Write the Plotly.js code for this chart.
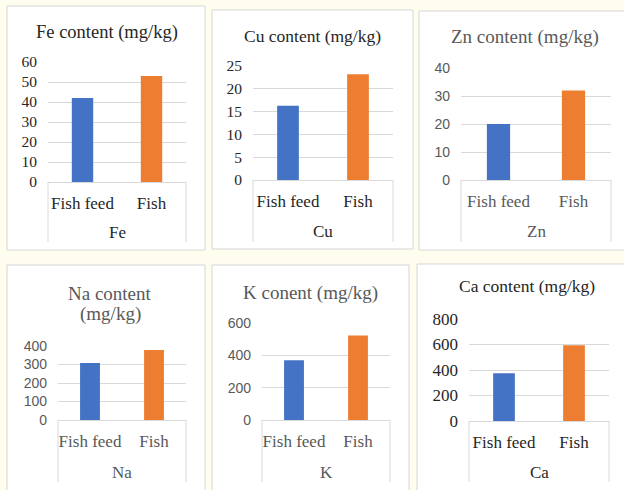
<!DOCTYPE html>
<html>
<head>
<meta charset="utf-8">
<script src="https://cdn.plot.ly/plotly-3.0.1.min.js"></script>
<style>html,body{margin:0;padding:0;background:#fffdee;}#chart{width:624px;height:490px;}</style>
</head>
<body>
<div id="chart"></div>
<script>
// ---- data ----
const categories = ['Fish feed', 'Fish'];
const elements = ['Fe', 'Cu', 'Zn', 'Na', 'K', 'Ca'];
const chartTitles = ['Fe content (mg/kg)', 'Cu content (mg/kg)', 'Zn content (mg/kg)', 'Na content|(mg/kg)', 'K conent (mg/kg)', 'Ca content (mg/kg)'];
const feValues = [42, 53];
const cuValues = [16.3, 23.2];
const znValues = [20, 32];
const naValues = [308, 378];
const kValues = [370, 522];
const caValues = [375, 595];
const yMax = [60, 25, 40, 400, 600, 800];
const yStep = [10, 5, 10, 100, 200, 200];
const allValues = [feValues, cuValues, znValues, naValues, kValues, caValues];

// ---- styles / layout (pixels) ----
const W = 624, H = 490;
const BLUE = '#4472C4', ORANGE = '#ED7D31';
const SERIF = 'Liberation Serif, Times New Roman, serif';
const SANS = 'Liberation Sans, Arial, sans-serif';
const DARK = '#262626', GRAY = '#595959';
// panel frames [x0, y0, x1, y1]
const frames = [[7,6,205,250],[212,10,413,249],[419,11,630,250],[7,265,205,495],[212,265,409,495],[417,264,630,495]];
// plot areas [x0, x1, yTop, yBottom]
const plots = [[48,186,62,182],[253,393,66,180],[461,611,68,180],[58,186,346,420],[262,390,323,420],[469,609,319,421]];
const titlePos = [[107,32,18.5,DARK],[312,36,17.5,DARK],[525,37,19,GRAY],[110,293,19,GRAY],[310,293,19,GRAY],[527,286,17.5,DARK]];
const tickFonts = [[SERIF,15.5,DARK],[SERIF,15.5,DARK],[SANS,14,GRAY],[SANS,14,GRAY],[SANS,14,GRAY],[SERIF,17,DARK]];
const catColor = [DARK, DARK, GRAY, GRAY, GRAY, DARK];
const groupY = [232,231,231,472,472,472];
const boxBottom = [242,242,242,482,482,482];

const px = x => x / W;
const py = y => 1 - y / H;

const data = [];
const layout = {
  width: W, height: H,
  margin: {l:0, r:0, t:0, b:0},
  paper_bgcolor: '#fffdee',
  plot_bgcolor: 'rgba(0,0,0,0)',
  showlegend: false,
  shapes: [], annotations: []
};

frames.forEach(f => {
  layout.shapes.push({type:'rect', xref:'paper', yref:'paper', layer:'below',
    x0:px(f[0]), x1:px(f[2]), y0:py(f[1]), y1:py(f[3]),
    fillcolor:'#ffffff', line:{color:'#d6d6d6', width:1}});
});

elements.forEach((el, i) => {
  const n = i === 0 ? '' : String(i + 1);
  const p = plots[i];
  data.push({
    type: 'bar', x: categories, y: allValues[i],
    xaxis: 'x' + n, yaxis: 'y' + n,
    width: 0.31,
    marker: {color: [BLUE, ORANGE], line: {width: 0}},
    hoverinfo: 'x+y'
  });
  layout['xaxis' + n] = {
    domain: [px(p[0]), px(p[1])], anchor: 'y' + n,
    type: 'category', range: [-0.5, 1.5],
    showgrid: false, showline: true, linecolor: '#d9d9d9', linewidth: 1,
    ticks: '', ticklabelstandoff: 6,
    tickfont: {family: SERIF, size: 17, color: catColor[i]},
    fixedrange: true
  };
  layout['yaxis' + n] = {
    domain: [py(p[3]), py(p[2])], anchor: 'x' + n,
    range: [0, yMax[i]], dtick: yStep[i], tick0: 0,
    showgrid: true, gridcolor: '#d9d9d9', gridwidth: 1,
    zeroline: false, showline: false, ticks: '', ticklabelstandoff: 10,
    tickfont: {family: tickFonts[i][0], size: tickFonts[i][1], color: tickFonts[i][2]},
    fixedrange: true
  };
  // category-axis box lines
  [0, 1].forEach(d => {
    layout.shapes.push({type:'line', xref:'x' + n + ' domain', yref:'paper',
      x0:d, x1:d, y0:py(p[3]), y1:py(boxBottom[i]), line:{color:'#d9d9d9', width:1}});
  });
  // group label
  layout.annotations.push({xref:'x' + n + ' domain', yref:'paper', x:0.5, y:py(groupY[i]),
    xanchor:'center', yanchor:'middle', showarrow:false, text: el,
    font:{family: SERIF, size: 17, color: catColor[i]}});
  // chart title
  const t = titlePos[i];
  const lines = chartTitles[i].split('|');
  lines.forEach((ln, k) => {
    layout.annotations.push({xref:'paper', yref:'paper', x:px(t[0]), y:py(t[1] + k * 20.5),
      xanchor:'center', yanchor:'middle', showarrow:false, text: ln,
      font:{family: SERIF, size: t[2], color: t[3]}});
  });
});

Plotly.newPlot('chart', data, layout, {displayModeBar: false, staticPlot: true});
</script>
</body>
</html>
